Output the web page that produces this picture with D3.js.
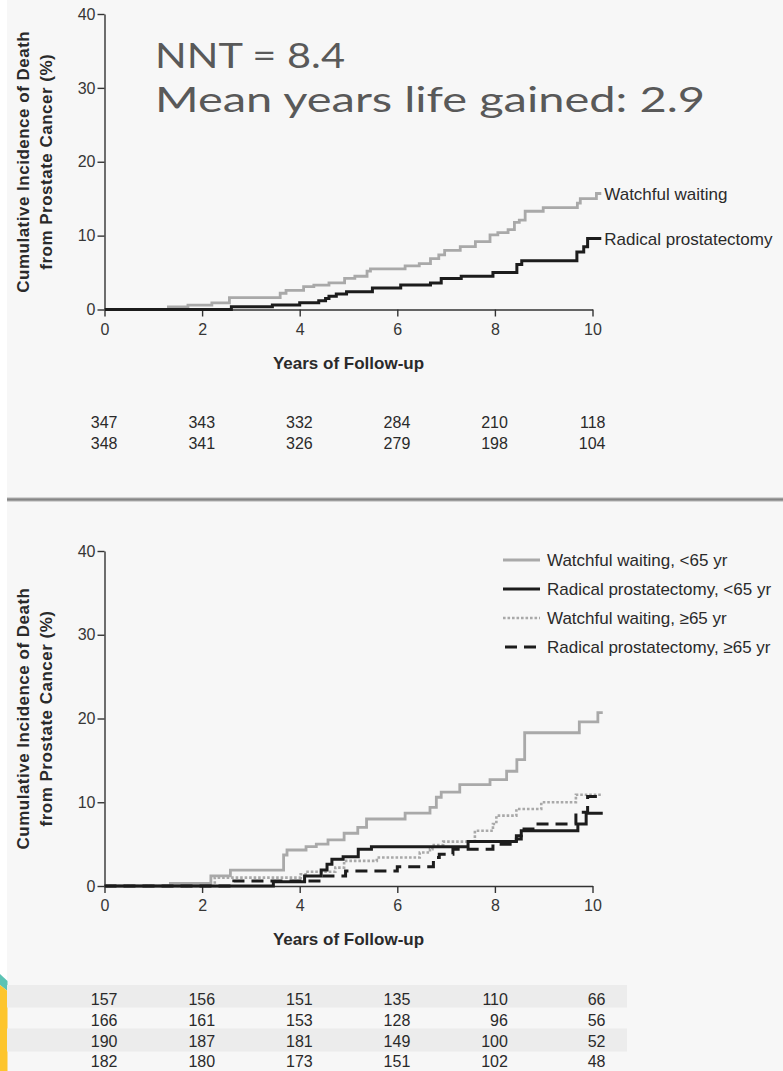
<!DOCTYPE html>
<html>
<head>
<meta charset="utf-8">
<script src="https://cdn.jsdelivr.net/npm/d3@7"></script>
<style>
  html, body { margin: 0; padding: 0; background: #ffffff; }
  svg { display: block; }
</style>
</head>
<body>
<svg id="fig" width="783" height="1071"></svg>
<script>
// ---- Axis ticks ----
const yearTicks = [0, 2, 4, 6, 8, 10];
const pctTicks = [0, 10, 20, 30, 40];

// ---- Panel A: all patients (step times in years, cumulative incidence in %) ----
const wwAllTimes = [0, 1.31, 1.71, 2.2, 2.56, 3.6, 3.72, 4.08, 4.29, 4.6, 4.92, 5.13, 5.38, 5.45, 6.16, 6.45, 6.68, 6.85, 6.97, 7.29, 7.6, 7.9, 8.06, 8.27, 8.4, 8.5, 8.62, 8.99, 9.69, 9.75, 10.08, 10.18];
const wwAllPct   = [0, 0.36, 0.6, 0.9, 1.6, 2.2, 2.6, 3.1, 3.3, 3.6, 4.2, 4.5, 5.2, 5.5, 5.9, 6.2, 6.9, 7.4, 8.0, 8.5, 9.2, 10.1, 10.4, 10.8, 11.8, 12.1, 13.3, 13.8, 14.4, 15.0, 15.7, 15.7];
const rpAllTimes = [0, 2.6, 3.44, 4.0, 4.39, 4.53, 4.6, 4.75, 4.96, 5.49, 6.07, 6.68, 6.9, 7.31, 7.96, 8.45, 8.55, 9.68, 9.82, 9.9, 10.18];
const rpAllPct   = [0, 0.36, 0.6, 0.9, 1.2, 1.5, 1.8, 2.1, 2.4, 2.9, 3.3, 3.6, 4.2, 4.5, 5.0, 6.1, 6.6, 7.8, 8.5, 9.6, 9.6];

// ---- Panel B: by age group ----
const wwYoungTimes = [0, 1.35, 2.18, 2.58, 3.67, 3.74, 4.13, 4.34, 4.58, 4.91, 5.19, 5.37, 6.16, 6.67, 6.8, 6.9, 7.28, 7.9, 8.24, 8.45, 8.61, 9.73, 10.11, 10.21];
const wwYoungPct   = [0, 0.3, 1.2, 1.9, 3.7, 4.3, 4.7, 5.0, 5.5, 6.3, 7.0, 8.0, 8.7, 9.4, 10.6, 11.2, 12.1, 12.7, 13.7, 15.1, 18.3, 19.6, 20.7, 20.7];
const rpYoungTimes = [0, 3.46, 4.1, 4.44, 4.56, 4.66, 4.89, 5.2, 5.47, 7.45, 8.44, 8.54, 9.7, 9.87, 10.21];
const rpYoungPct   = [0, 0.5, 1.2, 1.9, 2.6, 3.2, 3.5, 4.4, 4.7, 5.3, 6.0, 6.6, 7.4, 8.7, 8.7];
const wwOldTimes = [0, 2.26, 4.02, 4.16, 4.73, 4.91, 5.58, 6.46, 6.67, 6.72, 6.94, 7.59, 7.96, 8.03, 8.44, 8.95, 9.66, 10.21];
const wwOldPct   = [0, 1.0, 1.4, 1.7, 2.2, 3.0, 3.4, 4.0, 4.4, 4.9, 5.3, 6.6, 7.4, 8.4, 9.2, 10.0, 10.9, 10.9];
const rpOldTimes = [0, 2.65, 4.5, 4.94, 6.0, 6.74, 6.86, 7.14, 7.96, 8.44, 8.54, 8.78, 9.66, 9.9, 10.21];
const rpOldPct   = [0, 0.6, 1.2, 1.8, 2.3, 3.4, 3.8, 4.4, 5.0, 5.6, 6.8, 7.4, 8.8, 10.7, 10.7];

// ---- Numbers at risk ----
const riskAllWW = [347, 343, 332, 284, 210, 118];
const riskAllRP = [348, 341, 326, 279, 198, 104];
const riskWWYoung = [157, 156, 151, 135, 110, 66];
const riskRPYoung = [166, 161, 153, 128, 96, 56];
const riskWWOld = [190, 187, 181, 149, 100, 52];
const riskRPOld = [182, 180, 173, 151, 102, 48];

// ---- Text ----
const seriesLabelsAll = ["Watchful waiting", "Radical prostatectomy"];
const legendLabelsAge = ["Watchful waiting, <65 yr", "Radical prostatectomy, <65 yr", "Watchful waiting, \u226565 yr", "Radical prostatectomy, \u226565 yr"];
const headline = ["NNT = 8.4", "Mean years life gained: 2.9"];
const yTitle = ["Cumulative Incidence of Death", "from Prostate Cancer (%)"];
const xTitle = "Years of Follow-up";

// ---- Styles ----
const FONT = "'Liberation Sans', Arial, sans-serif";
const TXT = "#2a2a2a";
const GRAY = "#a9a9a9";
const BLACK = "#1c1c1c";
const styles = {
  grey:   { stroke: GRAY,  width: 2.8, dash: null },
  black:  { stroke: BLACK, width: 3.0, dash: null },
  dotted: { stroke: GRAY,  width: 2.6, dash: "2.6,1.9" },
  dashed: { stroke: BLACK, width: 3.0, dash: "12,7" }
};

const svg = d3.select("#fig");
const W = 783, H = 1071;

// page background
svg.append("rect").attr("width", W).attr("height", H).attr("fill", "#ffffff");
svg.append("rect").attr("x", 7).attr("width", W - 7).attr("height", H).attr("fill", "#f7f7f7");

// corner accent
svg.append("path").attr("d", "M0,974 L7.5,981 L7.5,991 L0,985 Z").attr("fill", "#5cc3b4");
svg.append("path").attr("d", "M0,985 L7.5,991 L7.5,1071 L0,1071 Z").attr("fill", "#fdc52c");

// divider between panels
svg.append("rect").attr("x", 7).attr("y", 497).attr("width", W - 7).attr("height", 5).attr("fill", "#d4d4d4");
svg.append("rect").attr("x", 7).attr("y", 498.3).attr("width", W - 7).attr("height", 2.4).attr("fill", "#868686");

const x = d3.scaleLinear().domain([0, 10]).range([104.5, 592.5]);

function drawPanel(cfg) {
  const y = d3.scaleLinear().domain([0, 40]).range([cfg.y0, cfg.y40]);
  const g = svg.append("g");

  // risk-table shading bands
  (cfg.bands || []).forEach(b => {
    g.append("rect").attr("x", 7).attr("y", b[0]).attr("width", 620).attr("height", b[1]).attr("fill", "#ececec");
  });

  const xAxis = d3.axisBottom(x).tickValues(yearTicks).tickSize(7).tickSizeOuter(0).tickPadding(7);
  const yAxis = d3.axisLeft(y).tickValues(pctTicks).tickSize(7).tickSizeOuter(0).tickPadding(2);
  const gx = g.append("g").attr("transform", `translate(0,${cfg.y0})`).call(xAxis);
  const gy = g.append("g").attr("transform", `translate(${x(0)},0)`).call(yAxis);
  [gx, gy].forEach(a => {
    a.select(".domain").attr("stroke", "#333").attr("stroke-width", 1.4);
    a.selectAll(".tick line").attr("stroke", "#333").attr("stroke-width", 1.4);
    a.selectAll(".tick text").attr("fill", "#363636")
      .style("font-family", FONT).style("font-size", "16px");
  });

  // axis titles
  const cy = (cfg.y0 + cfg.y40) / 2;
  [[29, yTitle[0]], [51.5, yTitle[1]]].forEach(([bx, t]) => {
    g.append("text").attr("transform", `translate(${bx},${cy}) rotate(-90)`)
      .attr("text-anchor", "middle").attr("fill", TXT)
      .style("font-family", FONT).style("font-size", "17px").style("font-weight", "bold")
      .style("letter-spacing", "0.5px").text(t);
  });
  g.append("text").attr("x", x(5)).attr("y", cfg.y0 + 59).attr("text-anchor", "middle")
    .attr("fill", TXT).style("font-family", FONT).style("font-size", "17px").style("font-weight", "bold")
    .text(xTitle);

  // curves
  const line = d3.line().x(d => x(d[0])).y(d => y(d[1])).curve(d3.curveStepAfter);
  cfg.series.forEach(s => {
    const st = styles[s.style];
    g.append("path").datum(d3.zip(s.t, s.v)).attr("d", line)
      .attr("fill", "none").attr("stroke", st.stroke).attr("stroke-width", st.width)
      .attr("stroke-dasharray", st.dash).attr("stroke-linejoin", "miter");
    if (s.label) {
      g.append("text").attr("x", x(s.t[s.t.length - 1]) + 3).attr("y", y(s.v[s.v.length - 1]))
        .attr("dy", "0.36em").attr("fill", TXT)
        .style("font-family", FONT).style("font-size", "17px").text(s.label);
    }
  });

  // numbers at risk
  cfg.risk.forEach((row, i) => {
    g.selectAll(null).data(row).enter().append("text")
      .attr("x", (d, j) => x(yearTicks[j]) + 13)
      .attr("y", cfg.riskY[i])
      .attr("text-anchor", "end").attr("fill", TXT)
      .style("font-family", FONT).style("font-size", "16px")
      .text(d => d);
  });
  return y;
}

// Panel A
drawPanel({
  y0: 309.5, y40: 14,
  series: [
    { t: wwAllTimes, v: wwAllPct, style: "grey", label: seriesLabelsAll[0] },
    { t: rpAllTimes, v: rpAllPct, style: "black", label: seriesLabelsAll[1] }
  ],
  risk: [riskAllWW, riskAllRP],
  riskY: [428, 449]
});

// headline annotation (wide slide lettering)
const headlineWidths = [190, 550];
headline.forEach((t, i) => {
  svg.append("text").attr("x", 155).attr("y", 68 + i * 43.5)
    .attr("fill", "#595959").style("font-family", "Lato, 'Open Sans', sans-serif")
    .style("font-size", "35px")
    .attr("textLength", headlineWidths[i]).attr("lengthAdjust", "spacingAndGlyphs")
    .text(t);
});

// Panel B
drawPanel({
  y0: 886, y40: 551,
  bands: [[985, 22.5], [1028.5, 23]],
  series: [
    { t: wwOldTimes, v: wwOldPct, style: "dotted" },
    { t: wwYoungTimes, v: wwYoungPct, style: "grey" },
    { t: rpOldTimes, v: rpOldPct, style: "dashed" },
    { t: rpYoungTimes, v: rpYoungPct, style: "black" }
  ],
  risk: [riskWWYoung, riskRPYoung, riskWWOld, riskRPOld],
  riskY: [1004.5, 1025.5, 1046.5, 1067]
});

// legend for panel B
const legendStyles = ["grey", "black", "dotted", "dashed"];
const legendY = [560, 589, 618, 647];
legendLabelsAge.forEach((lab, i) => {
  const st = styles[legendStyles[i]];
  const x1 = legendStyles[i] === "dashed" ? 505 : 503;
  svg.append("line").attr("x1", x1).attr("x2", 540).attr("y1", legendY[i]).attr("y2", legendY[i])
    .attr("stroke", st.stroke).attr("stroke-width", st.width).attr("stroke-dasharray", st.dash);
  svg.append("text").attr("x", 547).attr("y", legendY[i]).attr("dy", "0.36em").attr("fill", TXT)
    .style("font-family", FONT).style("font-size", "17px").text(lab);
});
</script>
</body>
</html>
